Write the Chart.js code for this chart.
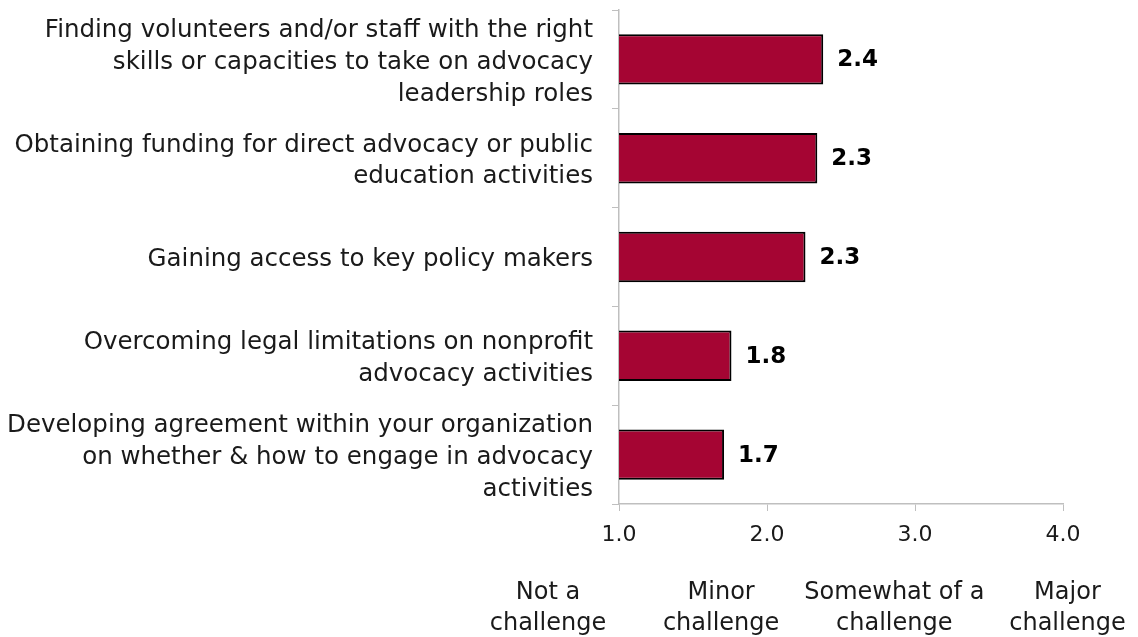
<!DOCTYPE html>
<html>
<head>
<meta charset="utf-8">
<script src="https://cdn.jsdelivr.net/npm/chart.js@4"></script>
<style>
  html, body { margin: 0; padding: 0; background: #fff; }
  #wrap { width: 1138px; height: 637px; }
</style>
</head>
<body>
<div id="wrap"><canvas id="js--chart"></canvas></div>
<script>
const categories = [
    ["Finding volunteers and/or staff with the right", "skills or capacities to take on advocacy", "leadership roles"],
    ["Obtaining funding for direct advocacy or public", "education activities"],
    ["Gaining access to key policy makers"],
    ["Overcoming legal limitations on nonprofit", "advocacy activities"],
    ["Developing agreement within your organization", "on whether & how to engage in advocacy", "activities"]
];
const values = [2.38, 2.34, 2.26, 1.76, 1.71];
const scaleNames = [["Not a", "challenge"], ["Minor", "challenge"], ["Somewhat of a", "challenge"], ["Major", "challenge"]];
const scaleNamePos = [0.52, 1.69, 2.86, 4.03]; // where each name sits on the x axis

const fontFamily = "'DejaVu Sans', sans-serif";
const ctx = document.getElementById("js--chart").getContext("2d");

// value labels right of each bar + the scale names under the axis
const labelPlugin = {
    id: "labels",
    afterDatasetsDraw(chart) {
        const c = chart.ctx;
        const meta = chart.getDatasetMeta(0);
        c.save();
        c.font = "bold 23px " + fontFamily;
        c.fillStyle = "#000";
        c.textAlign = "left";
        c.textBaseline = "middle";
        meta.data.forEach((bar, i) => {
            c.fillText(values[i].toFixed(1), bar.x + 14, bar.y + 1);
        });

        const x = chart.scales.x;
        c.font = "24px " + fontFamily;
        c.fillStyle = "#1a1a1a";
        c.textAlign = "center";
        scaleNames.forEach((lines, i) => {
            const px = x.getPixelForValue(scaleNamePos[i]);
            lines.forEach((line, j) => {
                c.fillText(line, px, x.bottom - 44 + j * 31);
            });
        });
        c.restore();
    }
};

const chart = new Chart(ctx, {
    type: "bar",
    data: {
        labels: categories,
        datasets: [{
            data: values,
            backgroundColor: "#a50533",
            borderColor: "#000",
            borderWidth: 2,
            borderSkipped: false,
            categoryPercentage: 1,
            barPercentage: 0.51
        }]
    },
    options: {
        indexAxis: "y",
        responsive: true,
        maintainAspectRatio: false,
        animation: false,
        layout: { padding: { top: 10, right: 75, bottom: 0, left: 0 } },
        plugins: {
            legend: { display: false },
            tooltip: { enabled: false }
        },
        scales: {
            y: {
                afterFit: (s) => {
                    s.width = 619;
                    s.paddingTop = 0;
                    s.paddingBottom = 0;
                },
                grid: { drawOnChartArea: false, tickLength: 7, color: "#bfbfbf", offset: true },
                border: { color: "#bfbfbf", width: 1.5 },
                ticks: {
                    autoSkip: false,
                    color: "#1a1a1a",
                    padding: 19,
                    labelOffset: 3,
                    font: { family: fontFamily, size: 24.5, lineHeight: 1.3 }
                }
            },
            x: {
                min: 1,
                max: 4,
                afterFit: (s) => { s.height = 133; },
                grid: { drawOnChartArea: false, tickLength: 7, color: "#bfbfbf" },
                border: { color: "#bfbfbf", width: 1.5 },
                ticks: {
                    stepSize: 1,
                    color: "#1a1a1a",
                    padding: 11,
                    font: { family: fontFamily, size: 22 },
                    callback: (v) => v.toFixed(1)
                }
            }
        }
    },
    plugins: [labelPlugin]
});
</script>
</body>
</html>
